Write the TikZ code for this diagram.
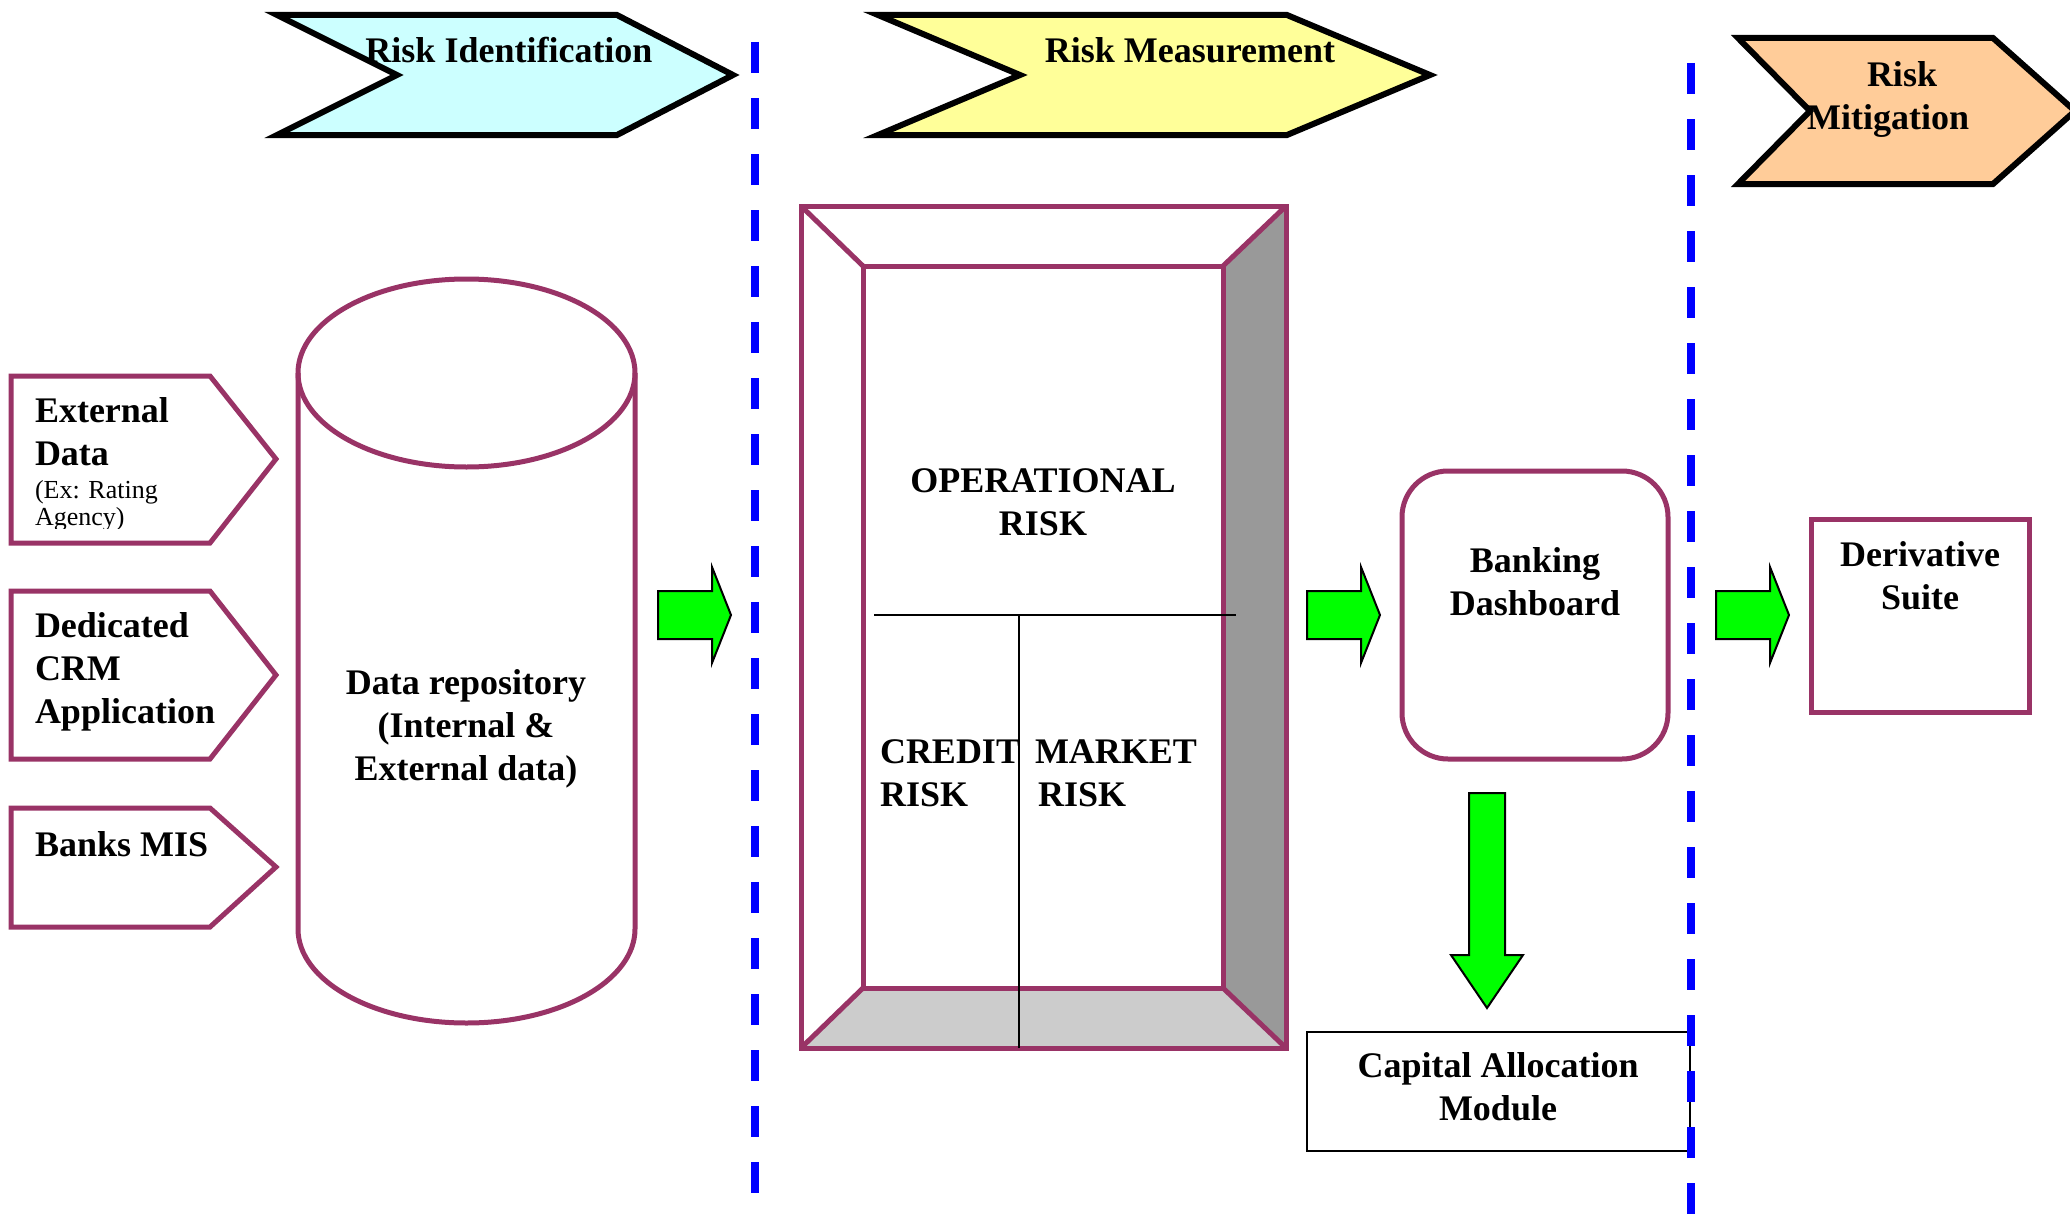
\documentclass[tikz,border=0pt]{standalone}
\usepackage{fontspec}
\setmainfont{Liberation Serif}
\definecolor{plum}{HTML}{993366}
\definecolor{idfill}{HTML}{CCFFFF}
\definecolor{measfill}{HTML}{FFFF99}
\definecolor{mitfill}{HTML}{FFCC99}
\definecolor{arrowgreen}{HTML}{00FF00}
\definecolor{sideshade}{HTML}{999999}
\definecolor{floorshade}{HTML}{CCCCCC}
\definecolor{divblue}{HTML}{0000FF}
\tikzset{
  purp/.style={draw=plum, line width=5pt, line join=miter},
  chev/.style={draw=black, line width=6pt, line join=miter},
  blockarrow/.style={fill=arrowgreen, draw=black, line width=2pt, line join=miter},
  lbl/.style={font=\fontsize{36}{43}\selectfont\bfseries, inner sep=0pt, outer sep=0pt},
  small/.style={font=\fontsize{26}{27}\selectfont, inner sep=0pt, outer sep=0pt, align=left},
  divider/.style={draw=divblue, line width=8pt, dash pattern=on 31pt off 25pt},
  thin/.style={draw=black, line width=2pt},
}
\begin{document}
\begin{tikzpicture}[x=1pt,y=-1pt]
\useasboundingbox[fill=white] (0,0) rectangle (2070,1215);

% ---- phase banners ----
\draw[chev, fill=idfill] (277,15) -- (617,15) -- (733,75) -- (617,135) -- (277,135) -- (397,75) -- cycle;
\node[lbl, anchor=base] (phaseid) at (509,63) {Risk Identification};

\draw[chev, fill=measfill] (878,15) -- (1287,15) -- (1430,75) -- (1287,135) -- (878,135) -- (1020,75) -- cycle;
\node[lbl, anchor=base] (phasemeas) at (1190,63) {Risk Measurement};

\draw[chev, fill=mitfill] (1738,38) -- (1993,38) -- (2075,111) -- (1993,184) -- (1738,184) -- (1810,111) -- cycle;
\node[lbl, anchor=base] (phasemitA) at (1902,87) {Risk};
\node[lbl, anchor=base] (phasemitB) at (1888,129) {Mitigation};

% ---- data sources (multi-line labels are placed by their last baseline) ----
\draw[purp] (11,376) -- (210,376) -- (276,459) -- (210,543) -- (11,543) -- cycle;
\node[lbl, anchor=base west, align=left] (extdata) at (35,465) {External\\Data};
\begin{scope}
  \clip (14,470) rectangle (205,528);
  \node[small, anchor=base west] (extnote) at (35,525) {(Ex: Rating\\Agency)};
\end{scope}

\draw[purp] (11,591) -- (210,591) -- (276,675) -- (210,759) -- (11,759) -- cycle;
\node[lbl, anchor=base west, align=left] (crm) at (35,723) {Dedicated\\CRM\\Application};

\draw[purp] (11,808) -- (210,808) -- (276,867) -- (210,927) -- (11,927) -- cycle;
\node[lbl, anchor=base west] (mis) at (35,856) {Banks MIS};

% ---- data repository cylinder ----
\draw[purp, fill=white] (298,373) -- (298,929)
  arc[start angle=180, end angle=0, x radius=168.5, y radius=94] -- (635,373);
\draw[purp] (466.5,373) ellipse[x radius=168.5, y radius=94];
\node[lbl, anchor=base, align=center] (repo) at (466,780) {Data repository\\(Internal \&\\External data)};

% ---- block arrows ----
\draw[blockarrow] (658,591) -- (712,591) -- (712,567) -- (731,615) -- (712,663) -- (712,639) -- (658,639) -- cycle;
\draw[blockarrow] (1307,591) -- (1361,591) -- (1361,567) -- (1380,615) -- (1361,663) -- (1361,639) -- (1307,639) -- cycle;
\draw[blockarrow] (1716,591) -- (1770,591) -- (1770,567) -- (1789,615) -- (1770,663) -- (1770,639) -- (1716,639) -- cycle;

% ---- risk measurement frame ----
\fill[white] (801,206) rectangle (1286,1048);
\fill[sideshade] (1223,266) -- (1286,206) -- (1286,1048) -- (1223,988) -- cycle;
\fill[floorshade] (863,988) -- (1223,988) -- (1286,1048) -- (801,1048) -- cycle;
\draw[purp] (801,206) rectangle (1286,1048);
\draw[purp] (863,266) rectangle (1223,988);
\draw[purp] (801,206) -- (863,266);
\draw[purp] (1286,206) -- (1223,266);
\draw[purp] (801,1048) -- (863,988);
\draw[purp] (1286,1048) -- (1223,988);
\coordinate (splitL) at (874,615);
\coordinate (splitR) at (1236,615);
\coordinate (splitM) at (1019,615);
\coordinate (splitB) at (1019,1048);
\draw[thin] (splitL) -- (splitR);
\draw[thin] (splitM) -- (splitB);
\node[lbl, anchor=base, align=center] (oprisk) at (1043,535) {OPERATIONAL\\RISK};
\node[lbl, anchor=base west, align=left] (credit) at (880,806) {CREDIT\\RISK};
\node[lbl, anchor=base west, align=left] (market) at (1035,806) {MARKET\\\hspace*{3pt}RISK};

% ---- dashboard and downstream ----
\draw[purp, rounded corners=46pt] (1402,471) rectangle (1668,759);
\node[lbl, anchor=base, align=center] (dash) at (1535,615) {Banking\\Dashboard};

\draw[blockarrow] (1469,793) -- (1505,793) -- (1505,955) -- (1523,955) -- (1487,1008) -- (1451,955) -- (1469,955) -- cycle;

\draw[draw=black, line width=2.2pt] (1307,1032) rectangle (1690,1151);
\node[lbl, anchor=base, align=center] (capital) at (1498,1120) {Capital Allocation\\Module};

\draw[purp] (1811,519) rectangle (2029,712);
\node[lbl, anchor=base, align=center] (deriv) at (1920,609) {Derivative\\Suite};

% ---- phase dividers ----
\coordinate (divAtop) at (755,42);
\coordinate (divAbot) at (755,1195);
\coordinate (divBtop) at (1691,63);
\coordinate (divBbot) at (1691,1230);
\draw[divider] (divAtop) -- (divAbot);
\draw[divider] (divBtop) -- (divBbot);
\end{tikzpicture}
\end{document}
